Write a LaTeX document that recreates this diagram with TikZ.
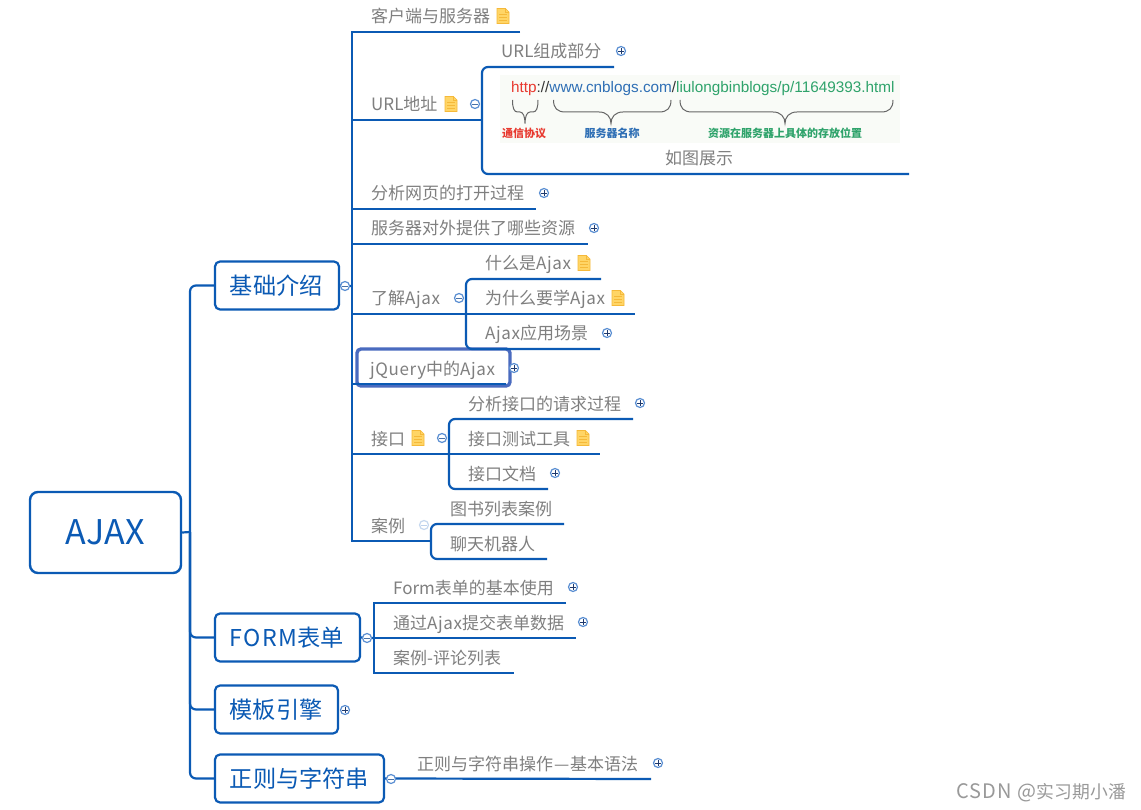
\documentclass[tikz,border=0pt]{standalone}
\usepackage{fontspec}
\setmainfont{Noto Sans CJK SC}
\newfontfamily\latinf{Liberation Sans}
\definecolor{mapblue}{HTML}{0B5AB4}
\definecolor{leafgray}{HTML}{7F7F7F}
\definecolor{ringblue}{HTML}{5B8FD2}
\definecolor{signdark}{HTML}{1F3A6E}
\definecolor{noteyellow}{HTML}{FFD566}
\definecolor{noteedge}{HTML}{F5B93A}
\definecolor{urlred}{HTML}{E8392F}
\definecolor{urlblue}{HTML}{2F6FB5}
\definecolor{urlgreen}{HTML}{2FA36B}
\definecolor{pale}{HTML}{F9FBF7}
\definecolor{focusblue}{HTML}{4A6BBF}
\newcommand{\Lsp}[1]{{\addfontfeature{LetterSpace=3.5}#1}}
\tikzset{
  leaf/.style={anchor=base west,inner sep=0pt,text=leafgray,font=\fontsize{17}{20}\selectfont},
  topicbox/.style={draw=mapblue,line width=2.2pt,rounded corners=5pt,fill=white,minimum height=48pt,inner sep=0pt,text=mapblue,font=\fontsize{23.2}{28}\selectfont},
  rootbox/.style={draw=mapblue,line width=2.4pt,rounded corners=8pt,fill=white,minimum width=151pt,minimum height=81pt,inner sep=0pt,text=mapblue,font=\fontsize{34}{40}\selectfont},
  link/.style={draw=mapblue,line width=2.2pt,line join=miter},
  curve/.style={link,rounded corners=6pt},
  ringbase/.style={circle,minimum size=9pt,inner sep=0pt,fill=white,draw=ringblue,line width=1.2pt},
  brc/.style={draw=black!60,line width=1pt},
  small/.style={inner sep=0pt,font=\bfseries\fontsize{11}{13}\selectfont},
  pics/noteicon/.style={code={
    \fill[noteyellow] (-6,-7.5) -- (2.5,-7.5) -- (6,-4) -- (6,7.5) -- (-6,7.5) -- cycle;
    \draw[noteedge,line width=0.6pt] (-6,-7.5) -- (2.5,-7.5) -- (6,-4) -- (6,7.5) -- (-6,7.5) -- cycle;
    \draw[noteedge,line width=0.8pt] (2.5,-7.5) -- (2.5,-4) -- (6,-4)
      (-3.8,-2) -- (3.8,-2) (-3.8,1) -- (3.8,1) (-3.8,4) -- (3.8,4);
  }},
}
\newcommand{\plusring}[2]{\node[ringbase] (#1) at #2 {};
  \draw[signdark,line width=0.9pt] ([xshift=-2.8pt]#1.center) -- ([xshift=2.8pt]#1.center) ([yshift=-2.8pt]#1.center) -- ([yshift=2.8pt]#1.center);}
\newcommand{\minusring}[2]{\node[ringbase] (#1) at #2 {};
  \draw[ringblue!80!black,line width=0.9pt] ([xshift=-2.8pt]#1.center) -- ([xshift=2.8pt]#1.center);}
% brace: left end, tip, right end, end radius
\newcommand{\bracepath}[4]{%
  \draw[brc] (#1,100) .. controls (#1,108) and ({#1+#4*0.3},112) .. ({#1+#4},112)
    -- ({#2-#4},112) .. controls ({#2-#4*0.35},112) and (#2,117) .. (#2,123.5)
    .. controls (#2,117) and ({#2+#4*0.35},112) .. ({#2+#4},112)
    -- ({#3-#4},112) .. controls ({#3-#4*0.3},112) and (#3,108) .. (#3,100);}
\begin{document}
\begin{tikzpicture}[x=1pt,y=-1pt]
\useasboundingbox (0,0) rectangle (1141,810);
\fill[white] (0,0) rectangle (1141,810);

% URL picture
\fill[pale] (500,75) rectangle (900,143);
\node[anchor=base west,inner sep=0pt,font=\latinf\fontsize{15.3}{17}\selectfont] (urltext) at (511,92.5)
  {\textcolor{urlred}{http}\textcolor{black!80}{://}\textcolor{urlblue}{www.cnblogs.com}\textcolor{black!80}{/}\textcolor{urlgreen}{liulongbinblogs/p/11649393.html}};
\bracepath{512.5}{525}{538}{5}
\bracepath{553.5}{611}{671}{12}
\bracepath{680}{785}{893}{12}
\node[small,text=urlred] (lbl1) at (524,133.5) {通信协议};
\node[small,text=urlblue] (lbl2) at (612,133.5) {服务器名称};
\node[small,text=urlgreen] (lbl3) at (785,133.5) {资源在服务器上具体的存放位置};

% free ends of the branch lines
\coordinate (t0) at (352,32); \coordinate (e0) at (520,32);
\coordinate (t1) at (352,120); \coordinate (j1) at (482,120);
\coordinate (t2) at (352,209); \coordinate (e2) at (536,209);
\coordinate (t3) at (352,244); \coordinate (e3) at (588,244);
\coordinate (t4) at (352,314); \coordinate (j4) at (466,314);
\coordinate (t5) at (352,384); \coordinate (e5) at (506,384);
\coordinate (t6) at (352,454); \coordinate (j6) at (449,454);
\coordinate (t7) at (352,541); \coordinate (j7) at (431,541);
\coordinate (tm) at (352,286);
\coordinate (u1) at (614,67); \coordinate (u2) at (909,174);
\coordinate (a1) at (601,279); \coordinate (a2) at (635,314); \coordinate (a3) at (600,349);
\coordinate (i1) at (633,419); \coordinate (i2) at (600,454); \coordinate (i3) at (548,489);
\coordinate (c1) at (564,524); \coordinate (c2) at (547,559);
\coordinate (f0) at (374,638); \coordinate (f1) at (566,603); \coordinate (f2) at (576,638); \coordinate (f3) at (514,673);
\coordinate (r1) at (651,779);
\coordinate (tr0) at (190,532);

% jQuery highlight
\draw[focusblue,line width=3.4pt,rounded corners=4pt] (357,349) rectangle (510,386);

% connectors
\draw[link] (e0) -- (t0) -- (t7) -- (j7);
\draw[link] (t1) -- (j1);
\draw[link] (t2) -- (e2);
\draw[link] (t3) -- (e3);
\draw[link] (t4) -- (a2);
\draw[link] (t5) -- (e5);
\draw[link] (t6) -- (i2);
\draw[curve] (u1) -| (j1) |- (u2);
\draw[curve] (a1) -| (j4) |- (a3);
\draw[curve] (i1) -| (j6) |- (i3);
\draw[curve] (c1) -| (j7) |- (c2);
\draw[link] (f1) -| (f0) |- (f3);
\draw[link] (f0) -- (f2);

% main topics
\node[rootbox] (root) at (105.5,532.5) {AJAX};
\node[topicbox,minimum width=124pt] (basic) at (277,285.5) {\kern-1.5pt基础介绍};
\node[topicbox,minimum width=145pt] (form) at (287.5,637.5) {\kern-1pt{\addfontfeature{LetterSpace=6.5}FORM}表单};
\node[topicbox,minimum width=123pt] (tmpl) at (276.5,709.5) {\kern-1pt模板引擎};
\node[topicbox,minimum width=169pt] (regex) at (299.5,778.5) {正则与字符串};

\draw[curve] (basic.west) -| (tr0) |- (regex.west);
\draw[link] (root.east) -- (tr0);
\draw[curve] (tr0) |- (form.west);
\draw[curve] (tr0) |- (tmpl.west);
\draw[link] (basic.east) -- (tm);
\draw[link] (form.east) -- (f0);
\draw[link] (regex.east) -- (r1);

% leaf texts
\node[leaf] (n0) at (371,23) {客户端与服务器};
\node[leaf] (n1) at (371,111) {URL地址};
\node[leaf] (n2) at (371,200) {分析网页的打开过程};
\node[leaf] (n3) at (371,235) {服务器对外提供了哪些资源};
\node[leaf] (n4) at (371,305) {了解\Lsp{Ajax}};
\node[leaf] (n5) at (370,375) {\Lsp{jQuery}中的\Lsp{Ajax}};
\node[leaf] (n6) at (371,445) {接口};
\node[leaf] (n7) at (371,532) {案例};
\node[leaf] (u1t) at (501,58) {URL组成部分};
\node[leaf] (u2t) at (665,165) {如图展示};
\node[leaf] (a1t) at (485,270) {什么是\Lsp{Ajax}};
\node[leaf] (a2t) at (485,305) {为什么要学\Lsp{Ajax}};
\node[leaf] (a3t) at (485,340) {\Lsp{Ajax}应用场景};
\node[leaf] (i1t) at (468,410) {分析接口的请求过程};
\node[leaf] (i2t) at (468,445) {接口测试工具};
\node[leaf] (i3t) at (468,480) {接口文档};
\node[leaf] (c1t) at (450,515) {图书列表案例};
\node[leaf] (c2t) at (450,550) {聊天机器人};
\node[leaf] (f1t) at (393,594) {Form表单的基本使用};
\node[leaf] (f2t) at (393,629) {通过\Lsp{Ajax}提交表单数据};
\node[leaf] (f3t) at (393,664) {案例-评论列表};
\node[leaf] (r1t) at (417,770) {正则与字符串操作\makebox[17pt][c]{—}基本语法};

% note icons
\pic at (503,16) {noteicon};
\pic at (451,104) {noteicon};
\pic at (584,263) {noteicon};
\pic at (618,298) {noteicon};
\pic at (418,438) {noteicon};
\pic at (583,438) {noteicon};

% expand / collapse marks
\minusring{m1}{(345,286)}
\minusring{m2}{(475,104)}
\minusring{m3}{(459,298)}
\minusring{m4}{(442,438)}
\minusring{m5}{(367,638)}
\minusring{m6}{(391,779)}
\node[ringbase,draw=ringblue!35] (m7) at (424,525) {};
\draw[ringblue!40,line width=0.8pt] ([xshift=-2.8pt]m7.center) -- ([xshift=2.8pt]m7.center);
\plusring{p1}{(621,51)}
\plusring{p2}{(544,193)}
\plusring{p3}{(594,228)}
\plusring{p4}{(607,333)}
\plusring{p5}{(514,368)}
\plusring{p6}{(640,403)}
\plusring{p7}{(555,473)}
\plusring{p8}{(573,587)}
\plusring{p9}{(583,622)}
\plusring{p10}{(345,710)}
\plusring{p11}{(658,763)}

% watermark
\node[anchor=base east,inner sep=0pt,text=black!40,font=\fontsize{17.8}{20}\selectfont] (wm) at (1126,798) {{\fontsize{20}{22}\selectfont\addfontfeature{LetterSpace=6}CSDN @}实习期小潘};
\end{tikzpicture}
\end{document}
